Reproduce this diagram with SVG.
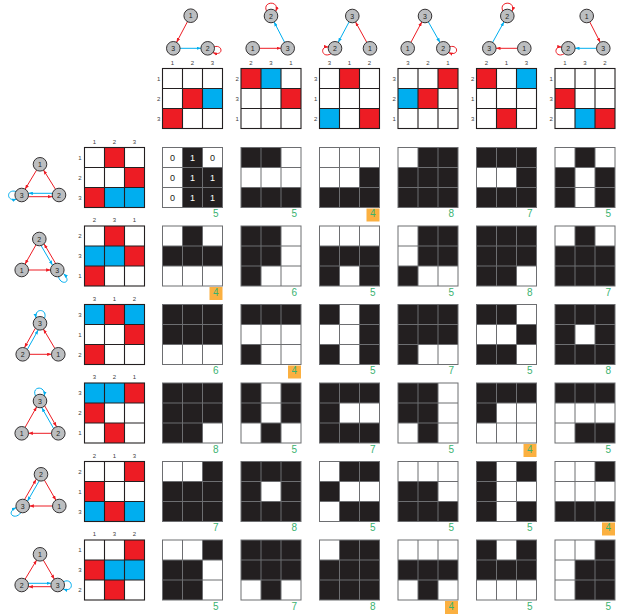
<svg xmlns="http://www.w3.org/2000/svg" xmlns:xlink="http://www.w3.org/1999/xlink" width="621" height="616" viewBox="0 0 621 616">
<style>
.nd{fill:#bcbec0;stroke:#231f20;stroke-width:0.9}
.nt{font-family:"Liberation Sans",Arial,sans-serif;font-size:7px;fill:#231f20;text-anchor:middle}
.lb{font-family:"Liberation Sans",Arial,sans-serif;font-size:6px;fill:#414042;text-anchor:middle}
.er{stroke:#ed1c24;stroke-width:1;fill:none;marker-end:url(#ar)}
.eb{stroke:#00aeef;stroke-width:1;fill:none;marker-end:url(#ab)}
.bg{fill:#ffffff}
.n{font-family:"Liberation Sans",Arial,sans-serif;font-size:10px;fill:#3ab26f;text-anchor:end}
.hl{fill:#fbb040}
.v{font-family:"Liberation Sans",Arial,sans-serif;font-size:9px;text-anchor:middle}
</style>
<defs>
<marker id="ar" viewBox="0 0 8 6" refX="8" refY="3" markerWidth="4.5" markerHeight="3.6" markerUnits="userSpaceOnUse" orient="auto"><path d="M0,0 L8,3 L0,6 z" fill="#ed1c24"/></marker>
<marker id="ab" viewBox="0 0 8 6" refX="8" refY="3" markerWidth="4.5" markerHeight="3.6" markerUnits="userSpaceOnUse" orient="auto"><path d="M0,0 L8,3 L0,6 z" fill="#00aeef"/></marker>
<rect id="k" width="20" height="20" fill="#231f20"/>
<rect id="r" width="20" height="20" fill="#ed1c24"/>
<rect id="b" width="20" height="20" fill="#00aeef"/>
<g id="gl" fill="none" stroke="#6d6e71" stroke-width="1"><rect x="0" y="0" width="60" height="60"/><path d="M20 0V60M40 0V60M0 20H60M0 40H60"/></g>
<g id="ml" fill="none" stroke="#231f20" stroke-width="1.1"><rect x="0" y="0" width="60" height="60"/><path d="M20 0V60M40 0V60M0 20H60M0 40H60"/></g>
</defs>
<rect width="621" height="616" fill="#ffffff"/>

<g id="connectors">
<path class="er" d="M187.5 21.6L176.5 42.4"/>
<path class="eb" d="M180 48.3L201 48.3"/>
<path class="er" d="M214.2 46.8C223 44 224 57 212.8 52.6"/>
<path class="er" d="M259.4 48.3L281 48.3"/>
<path class="eb" d="M284.6 42.3L274.1 22"/>
<path class="er" d="M266.5 11C262 1 280 0 275.8 11.3"/>
<path class="eb" d="M349.1 21.9L338.2 42.4"/>
<path class="er" d="M366.8 42.4L355.5 21.9"/>
<path class="er" d="M331 53.7C322 59 319 46 328.4 47"/>
<path class="er" d="M410.9 42.4L421.8 21.9"/>
<path class="eb" d="M428.3 21.8L440 42.5"/>
<path class="er" d="M449.8 46.8C458.6 44 459.6 57 448.4 52.6"/>
<path class="er" d="M517.6 48.3L496 48.3"/>
<path class="eb" d="M492.6 42.4L504 21.8"/>
<path class="er" d="M502.8 11C498.3 1 516.3 0 512.1 11.3"/>
<path class="er" d="M589.8 22L600.2 42.3"/>
<path class="eb" d="M596.6 48.3L575 48.3"/>
<path class="er" d="M564.3 53.7C555.3 59 552.3 46 561.7 47"/>
<path class="er" d="M36.6 170.1L25.1 189.2"/>
<path class="er" d="M55.5 189.3L43.5 170"/>
<path class="eb" d="M52.3 193.3L28.4 193.3"/>
<path class="er" d="M28.4 196.7L52.3 196.7"/>
<path class="eb" d="M16 191.5C6 188.5 6 202.5 16.6 199"/>
<path class="er" d="M36 244.8L25 264.2"/>
<path class="er" d="M28.4 270L50.6 270"/>
<path class="eb" d="M41.1 245.6L52.5 265.1"/>
<path class="er" d="M55.5 263.3L44.1 243.9"/>
<path class="eb" d="M58.5 276.6C60.5 286 73 283 63.5 273.6"/>
<path class="er" d="M35.3 328.3L24.5 347.6"/>
<path class="eb" d="M27.4 349.3L38.2 330"/>
<path class="er" d="M29.4 354.3L51.6 354.3"/>
<path class="er" d="M54.9 348.5L43.4 329.1"/>
<path class="eb" d="M44.5 318.3C48 308.5 34 307.5 36 318"/>
<path class="er" d="M25 427.5L36.7 406.8"/>
<path class="er" d="M44.8 406L56.5 426.6"/>
<path class="eb" d="M53.5 428.3L41.8 407.7"/>
<path class="er" d="M51.6 433.3L28.4 433.3"/>
<path class="eb" d="M35.5 396C31 386 46 385 44.3 396"/>
<path class="er" d="M24.6 499.4L36.2 479.3"/>
<path class="eb" d="M39.1 481L27.5 501.1"/>
<path class="er" d="M44.4 480.1L55.9 500.2"/>
<path class="er" d="M52.6 506L29.4 506"/>
<path class="eb" d="M21 512.5C15 521 5 513 16.2 507.6"/>
<path class="er" d="M25.1 579.2L36.6 560.1"/>
<path class="er" d="M43.3 560.1L54.4 579.2"/>
<path class="eb" d="M28.4 583.3L51 583.3"/>
<path class="er" d="M51 586.7L28.4 586.7"/>
<path class="eb" d="M63.5 581.7C73 577 75 593 63.2 589"/>
</g>

<g id="t1n1"><circle class="nd" cx="190.7" cy="15.7" r="6.8"/><text class="nt" x="190.7" y="18.2">1</text></g>
<g id="t1n3"><circle class="nd" cx="173.3" cy="48.3" r="6.8"/><text class="nt" x="173.3" y="50.8">3</text></g>
<g id="t1n2"><circle class="nd" cx="207.7" cy="48.3" r="6.8"/><text class="nt" x="207.7" y="50.8">2</text></g>
<g id="t2n2"><circle class="nd" cx="271" cy="16" r="6.8"/><text class="nt" x="271" y="18.5">2</text></g>
<g id="t2n1"><circle class="nd" cx="252.7" cy="48.3" r="6.8"/><text class="nt" x="252.7" y="50.8">1</text></g>
<g id="t2n3"><circle class="nd" cx="287.7" cy="48.3" r="6.8"/><text class="nt" x="287.7" y="50.8">3</text></g>
<g id="t3n3"><circle class="nd" cx="352.3" cy="16" r="6.8"/><text class="nt" x="352.3" y="18.5">3</text></g>
<g id="t3n2"><circle class="nd" cx="335" cy="48.3" r="6.8"/><text class="nt" x="335" y="50.8">2</text></g>
<g id="t3n1"><circle class="nd" cx="370" cy="48.3" r="6.8"/><text class="nt" x="370" y="50.8">1</text></g>
<g id="t4n3"><circle class="nd" cx="425" cy="16" r="6.8"/><text class="nt" x="425" y="18.5">3</text></g>
<g id="t4n1"><circle class="nd" cx="407.7" cy="48.3" r="6.8"/><text class="nt" x="407.7" y="50.8">1</text></g>
<g id="t4n2"><circle class="nd" cx="443.3" cy="48.3" r="6.8"/><text class="nt" x="443.3" y="50.8">2</text></g>
<g id="t5n2"><circle class="nd" cx="507.3" cy="16" r="6.8"/><text class="nt" x="507.3" y="18.5">2</text></g>
<g id="t5n3"><circle class="nd" cx="489.3" cy="48.3" r="6.8"/><text class="nt" x="489.3" y="50.8">3</text></g>
<g id="t5n1"><circle class="nd" cx="524.3" cy="48.3" r="6.8"/><text class="nt" x="524.3" y="50.8">1</text></g>
<g id="t6n1"><circle class="nd" cx="586.7" cy="16" r="6.8"/><text class="nt" x="586.7" y="18.5">1</text></g>
<g id="t6n2"><circle class="nd" cx="568.3" cy="48.3" r="6.8"/><text class="nt" x="568.3" y="50.8">2</text></g>
<g id="t6n3"><circle class="nd" cx="603.3" cy="48.3" r="6.8"/><text class="nt" x="603.3" y="50.8">3</text></g>

<g id="l1n1"><circle class="nd" cx="40" cy="164.3" r="6.8"/><text class="nt" x="40" y="166.8">1</text></g>
<g id="l1n3"><circle class="nd" cx="21.7" cy="195" r="6.8"/><text class="nt" x="21.7" y="197.5">3</text></g>
<g id="l1n2"><circle class="nd" cx="59" cy="195" r="6.8"/><text class="nt" x="59" y="197.5">2</text></g>
<g id="l2n2"><circle class="nd" cx="39.3" cy="239" r="6.8"/><text class="nt" x="39.3" y="241.5">2</text></g>
<g id="l2n1"><circle class="nd" cx="21.7" cy="270" r="6.8"/><text class="nt" x="21.7" y="272.5">1</text></g>
<g id="l2n3"><circle class="nd" cx="57.3" cy="270" r="6.8"/><text class="nt" x="57.3" y="272.5">3</text></g>
<g id="l3n3"><circle class="nd" cx="40" cy="323.3" r="6.8"/><text class="nt" x="40" y="325.8">3</text></g>
<g id="l3n2"><circle class="nd" cx="22.7" cy="354.3" r="6.8"/><text class="nt" x="22.7" y="356.8">2</text></g>
<g id="l3n1"><circle class="nd" cx="58.3" cy="354.3" r="6.8"/><text class="nt" x="58.3" y="356.8">1</text></g>
<g id="l4n3"><circle class="nd" cx="40" cy="401" r="6.8"/><text class="nt" x="40" y="403.5">3</text></g>
<g id="l4n1"><circle class="nd" cx="21.7" cy="433.3" r="6.8"/><text class="nt" x="21.7" y="435.8">1</text></g>
<g id="l4n2"><circle class="nd" cx="58.3" cy="433.3" r="6.8"/><text class="nt" x="58.3" y="435.8">2</text></g>
<g id="l5n2"><circle class="nd" cx="41" cy="474.3" r="6.8"/><text class="nt" x="41" y="476.8">2</text></g>
<g id="l5n3"><circle class="nd" cx="22.7" cy="506" r="6.8"/><text class="nt" x="22.7" y="508.5">3</text></g>
<g id="l5n1"><circle class="nd" cx="59.3" cy="506" r="6.8"/><text class="nt" x="59.3" y="508.5">1</text></g>
<g id="l6n1"><circle class="nd" cx="40" cy="554.3" r="6.8"/><text class="nt" x="40" y="556.8">1</text></g>
<g id="l6n2"><circle class="nd" cx="21.7" cy="585" r="6.8"/><text class="nt" x="21.7" y="587.5">2</text></g>
<g id="l6n3"><circle class="nd" cx="57.7" cy="585" r="6.8"/><text class="nt" x="57.7" y="587.5">3</text></g>

<g id="tm1" transform="translate(162.5,68.5)"><rect class="bg" width="60" height="60"/><use href="#r" x="20" y="20"/><use href="#b" x="40" y="20"/><use href="#r" x="0" y="40"/><use href="#ml"/>
<text class="lb" x="10" y="-3.7">1</text><text class="lb" x="30" y="-3.7">2</text><text class="lb" x="50" y="-3.7">3</text><text class="lb" x="-3.8" y="12">1</text><text class="lb" x="-3.8" y="32">2</text><text class="lb" x="-3.8" y="52">3</text></g>
<g id="tm2" transform="translate(241,68.5)"><rect class="bg" width="60" height="60"/><use href="#r" x="0" y="0"/><use href="#b" x="20" y="0"/><use href="#r" x="40" y="20"/><use href="#ml"/>
<text class="lb" x="10" y="-3.7">2</text><text class="lb" x="30" y="-3.7">3</text><text class="lb" x="50" y="-3.7">1</text><text class="lb" x="-3.8" y="12">2</text><text class="lb" x="-3.8" y="32">3</text><text class="lb" x="-3.8" y="52">1</text></g>
<g id="tm3" transform="translate(319.5,68.5)"><rect class="bg" width="60" height="60"/><use href="#r" x="20" y="0"/><use href="#b" x="0" y="40"/><use href="#r" x="40" y="40"/><use href="#ml"/>
<text class="lb" x="10" y="-3.7">3</text><text class="lb" x="30" y="-3.7">1</text><text class="lb" x="50" y="-3.7">2</text><text class="lb" x="-3.8" y="12">3</text><text class="lb" x="-3.8" y="32">1</text><text class="lb" x="-3.8" y="52">2</text></g>
<g id="tm4" transform="translate(398,68.5)"><rect class="bg" width="60" height="60"/><use href="#r" x="40" y="0"/><use href="#b" x="0" y="20"/><use href="#r" x="20" y="20"/><use href="#ml"/>
<text class="lb" x="10" y="-3.7">3</text><text class="lb" x="30" y="-3.7">2</text><text class="lb" x="50" y="-3.7">1</text><text class="lb" x="-3.8" y="12">3</text><text class="lb" x="-3.8" y="32">2</text><text class="lb" x="-3.8" y="52">1</text></g>
<g id="tm5" transform="translate(476.5,68.5)"><rect class="bg" width="60" height="60"/><use href="#r" x="0" y="0"/><use href="#b" x="40" y="0"/><use href="#r" x="20" y="40"/><use href="#ml"/>
<text class="lb" x="10" y="-3.7">2</text><text class="lb" x="30" y="-3.7">1</text><text class="lb" x="50" y="-3.7">3</text><text class="lb" x="-3.8" y="12">2</text><text class="lb" x="-3.8" y="32">1</text><text class="lb" x="-3.8" y="52">3</text></g>
<g id="tm6" transform="translate(555,68.5)"><rect class="bg" width="60" height="60"/><use href="#r" x="0" y="20"/><use href="#b" x="20" y="40"/><use href="#r" x="40" y="40"/><use href="#ml"/>
<text class="lb" x="10" y="-3.7">1</text><text class="lb" x="30" y="-3.7">3</text><text class="lb" x="50" y="-3.7">2</text><text class="lb" x="-3.8" y="12">1</text><text class="lb" x="-3.8" y="32">3</text><text class="lb" x="-3.8" y="52">2</text></g>

<g id="lm1" transform="translate(84.5,147.5)"><rect class="bg" width="60" height="60"/><use href="#r" x="20" y="0"/><use href="#r" x="40" y="20"/><use href="#r" x="0" y="40"/><use href="#b" x="20" y="40"/><use href="#b" x="40" y="40"/><use href="#ml"/>
<text class="lb" x="10" y="-3.7">1</text><text class="lb" x="30" y="-3.7">2</text><text class="lb" x="50" y="-3.7">3</text><text class="lb" x="-4.5" y="12">1</text><text class="lb" x="-4.5" y="32">2</text><text class="lb" x="-4.5" y="52">3</text></g>
<g id="lm2" transform="translate(84.5,226)"><rect class="bg" width="60" height="60"/><use href="#r" x="20" y="0"/><use href="#b" x="0" y="20"/><use href="#b" x="20" y="20"/><use href="#r" x="40" y="20"/><use href="#r" x="0" y="40"/><use href="#ml"/>
<text class="lb" x="10" y="-3.7">2</text><text class="lb" x="30" y="-3.7">3</text><text class="lb" x="50" y="-3.7">1</text><text class="lb" x="-4.5" y="12">2</text><text class="lb" x="-4.5" y="32">3</text><text class="lb" x="-4.5" y="52">1</text></g>
<g id="lm3" transform="translate(84.5,304.5)"><rect class="bg" width="60" height="60"/><use href="#b" x="0" y="0"/><use href="#r" x="20" y="0"/><use href="#b" x="40" y="0"/><use href="#r" x="40" y="20"/><use href="#r" x="0" y="40"/><use href="#ml"/>
<text class="lb" x="10" y="-3.7">3</text><text class="lb" x="30" y="-3.7">1</text><text class="lb" x="50" y="-3.7">2</text><text class="lb" x="-4.5" y="12">3</text><text class="lb" x="-4.5" y="32">1</text><text class="lb" x="-4.5" y="52">2</text></g>
<g id="lm4" transform="translate(84.5,383)"><rect class="bg" width="60" height="60"/><use href="#b" x="0" y="0"/><use href="#b" x="20" y="0"/><use href="#r" x="40" y="0"/><use href="#r" x="0" y="20"/><use href="#r" x="20" y="40"/><use href="#ml"/>
<text class="lb" x="10" y="-3.7">3</text><text class="lb" x="30" y="-3.7">2</text><text class="lb" x="50" y="-3.7">1</text><text class="lb" x="-4.5" y="12">3</text><text class="lb" x="-4.5" y="32">2</text><text class="lb" x="-4.5" y="52">1</text></g>
<g id="lm5" transform="translate(84.5,461.5)"><rect class="bg" width="60" height="60"/><use href="#r" x="40" y="0"/><use href="#r" x="0" y="20"/><use href="#b" x="0" y="40"/><use href="#r" x="20" y="40"/><use href="#b" x="40" y="40"/><use href="#ml"/>
<text class="lb" x="10" y="-3.7">2</text><text class="lb" x="30" y="-3.7">1</text><text class="lb" x="50" y="-3.7">3</text><text class="lb" x="-4.5" y="12">2</text><text class="lb" x="-4.5" y="32">1</text><text class="lb" x="-4.5" y="52">3</text></g>
<g id="lm6" transform="translate(84.5,540)"><rect class="bg" width="60" height="60"/><use href="#r" x="40" y="0"/><use href="#r" x="0" y="20"/><use href="#b" x="20" y="20"/><use href="#b" x="40" y="20"/><use href="#r" x="20" y="40"/><use href="#ml"/>
<text class="lb" x="10" y="-3.7">1</text><text class="lb" x="30" y="-3.7">3</text><text class="lb" x="50" y="-3.7">2</text><text class="lb" x="-4.5" y="12">1</text><text class="lb" x="-4.5" y="32">3</text><text class="lb" x="-4.5" y="52">2</text></g>

<g id="c11" transform="translate(162.5,147.5)"><rect class="bg" width="60" height="60"/><use href="#k" x="20" y="0"/><use href="#k" x="20" y="20"/><use href="#k" x="40" y="20"/><use href="#k" x="20" y="40"/><use href="#k" x="40" y="40"/><use href="#gl"/>
<text class="v" x="10" y="13" fill="#231f20">0</text><text class="v" x="30" y="13" fill="#ffffff">1</text><text class="v" x="50" y="13" fill="#231f20">0</text>
<text class="v" x="10" y="33" fill="#231f20">0</text><text class="v" x="30" y="33" fill="#ffffff">1</text><text class="v" x="50" y="33" fill="#ffffff">1</text>
<text class="v" x="10" y="53" fill="#231f20">0</text><text class="v" x="30" y="53" fill="#ffffff">1</text><text class="v" x="50" y="53" fill="#ffffff">1</text>
<text class="n" x="56" y="69.5">5</text></g>
<g id="c12" transform="translate(241,147.5)"><rect class="bg" width="60" height="60"/><use href="#k" x="0" y="0"/><use href="#k" x="20" y="0"/><use href="#k" x="0" y="40"/><use href="#k" x="20" y="40"/><use href="#k" x="40" y="40"/><use href="#gl"/><text class="n" x="56" y="69.5">5</text></g>
<g id="c13" transform="translate(319.5,147.5)"><rect class="bg" width="60" height="60"/><use href="#k" x="40" y="20"/><use href="#k" x="0" y="40"/><use href="#k" x="20" y="40"/><use href="#k" x="40" y="40"/><use href="#gl"/><rect class="hl" x="47" y="61" width="13" height="13"/><text class="n" x="56" y="69.5">4</text></g>
<g id="c14" transform="translate(398,147.5)"><rect class="bg" width="60" height="60"/><use href="#k" x="20" y="0"/><use href="#k" x="40" y="0"/><use href="#k" x="0" y="20"/><use href="#k" x="20" y="20"/><use href="#k" x="40" y="20"/><use href="#k" x="0" y="40"/><use href="#k" x="20" y="40"/><use href="#k" x="40" y="40"/><use href="#gl"/><text class="n" x="56" y="69.5">8</text></g>
<g id="c15" transform="translate(476.5,147.5)"><rect class="bg" width="60" height="60"/><use href="#k" x="0" y="0"/><use href="#k" x="20" y="0"/><use href="#k" x="40" y="0"/><use href="#k" x="40" y="20"/><use href="#k" x="0" y="40"/><use href="#k" x="20" y="40"/><use href="#k" x="40" y="40"/><use href="#gl"/><text class="n" x="56" y="69.5">7</text></g>
<g id="c16" transform="translate(555,147.5)"><rect class="bg" width="60" height="60"/><use href="#k" x="20" y="0"/><use href="#k" x="0" y="20"/><use href="#k" x="40" y="20"/><use href="#k" x="0" y="40"/><use href="#k" x="40" y="40"/><use href="#gl"/><text class="n" x="56" y="69.5">5</text></g>

<g id="c21" transform="translate(162.5,226)"><rect class="bg" width="60" height="60"/><use href="#k" x="20" y="0"/><use href="#k" x="0" y="20"/><use href="#k" x="20" y="20"/><use href="#k" x="40" y="20"/><use href="#gl"/><rect class="hl" x="47" y="61" width="13" height="13"/><text class="n" x="56" y="69.5">4</text></g>
<g id="c22" transform="translate(241,226)"><rect class="bg" width="60" height="60"/><use href="#k" x="0" y="0"/><use href="#k" x="20" y="0"/><use href="#k" x="0" y="20"/><use href="#k" x="20" y="20"/><use href="#k" x="0" y="40"/><use href="#gl"/><text class="n" x="56" y="69.5">6</text></g>
<g id="c23" transform="translate(319.5,226)"><rect class="bg" width="60" height="60"/><use href="#k" x="0" y="20"/><use href="#k" x="20" y="20"/><use href="#k" x="40" y="20"/><use href="#k" x="0" y="40"/><use href="#k" x="40" y="40"/><use href="#gl"/><text class="n" x="56" y="69.5">5</text></g>
<g id="c24" transform="translate(398,226)"><rect class="bg" width="60" height="60"/><use href="#k" x="20" y="0"/><use href="#k" x="40" y="0"/><use href="#k" x="20" y="20"/><use href="#k" x="40" y="20"/><use href="#k" x="0" y="40"/><use href="#gl"/><text class="n" x="56" y="69.5">5</text></g>
<g id="c25" transform="translate(476.5,226)"><rect class="bg" width="60" height="60"/><use href="#k" x="0" y="0"/><use href="#k" x="20" y="0"/><use href="#k" x="40" y="0"/><use href="#k" x="0" y="20"/><use href="#k" x="20" y="20"/><use href="#k" x="40" y="20"/><use href="#k" x="0" y="40"/><use href="#k" x="20" y="40"/><use href="#gl"/><text class="n" x="56" y="69.5">8</text></g>
<g id="c26" transform="translate(555,226)"><rect class="bg" width="60" height="60"/><use href="#k" x="20" y="0"/><use href="#k" x="0" y="20"/><use href="#k" x="20" y="20"/><use href="#k" x="40" y="20"/><use href="#k" x="0" y="40"/><use href="#k" x="20" y="40"/><use href="#k" x="40" y="40"/><use href="#gl"/><text class="n" x="56" y="69.5">7</text></g>

<g id="c31" transform="translate(162.5,304.5)"><rect class="bg" width="60" height="60"/><use href="#k" x="0" y="0"/><use href="#k" x="20" y="0"/><use href="#k" x="40" y="0"/><use href="#k" x="0" y="20"/><use href="#k" x="20" y="20"/><use href="#k" x="40" y="20"/><use href="#gl"/><text class="n" x="56" y="69.5">6</text></g>
<g id="c32" transform="translate(241,304.5)"><rect class="bg" width="60" height="60"/><use href="#k" x="0" y="0"/><use href="#k" x="20" y="0"/><use href="#k" x="40" y="0"/><use href="#k" x="0" y="40"/><use href="#gl"/><rect class="hl" x="47" y="61" width="13" height="13"/><text class="n" x="56" y="69.5">4</text></g>
<g id="c33" transform="translate(319.5,304.5)"><rect class="bg" width="60" height="60"/><use href="#k" x="0" y="0"/><use href="#k" x="40" y="0"/><use href="#k" x="40" y="20"/><use href="#k" x="0" y="40"/><use href="#k" x="40" y="40"/><use href="#gl"/><text class="n" x="56" y="69.5">5</text></g>
<g id="c34" transform="translate(398,304.5)"><rect class="bg" width="60" height="60"/><use href="#k" x="0" y="0"/><use href="#k" x="20" y="0"/><use href="#k" x="40" y="0"/><use href="#k" x="0" y="20"/><use href="#k" x="20" y="20"/><use href="#k" x="40" y="20"/><use href="#k" x="0" y="40"/><use href="#gl"/><text class="n" x="56" y="69.5">7</text></g>
<g id="c35" transform="translate(476.5,304.5)"><rect class="bg" width="60" height="60"/><use href="#k" x="0" y="0"/><use href="#k" x="20" y="0"/><use href="#k" x="40" y="20"/><use href="#k" x="0" y="40"/><use href="#k" x="20" y="40"/><use href="#gl"/><text class="n" x="56" y="69.5">5</text></g>
<g id="c36" transform="translate(555,304.5)"><rect class="bg" width="60" height="60"/><use href="#k" x="0" y="0"/><use href="#k" x="20" y="0"/><use href="#k" x="40" y="0"/><use href="#k" x="0" y="20"/><use href="#k" x="40" y="20"/><use href="#k" x="0" y="40"/><use href="#k" x="20" y="40"/><use href="#k" x="40" y="40"/><use href="#gl"/><text class="n" x="56" y="69.5">8</text></g>

<g id="c41" transform="translate(162.5,383)"><rect class="bg" width="60" height="60"/><use href="#k" x="0" y="0"/><use href="#k" x="20" y="0"/><use href="#k" x="40" y="0"/><use href="#k" x="0" y="20"/><use href="#k" x="20" y="20"/><use href="#k" x="40" y="20"/><use href="#k" x="0" y="40"/><use href="#k" x="20" y="40"/><use href="#gl"/><text class="n" x="56" y="69.5">8</text></g>
<g id="c42" transform="translate(241,383)"><rect class="bg" width="60" height="60"/><use href="#k" x="0" y="0"/><use href="#k" x="40" y="0"/><use href="#k" x="0" y="20"/><use href="#k" x="40" y="20"/><use href="#k" x="20" y="40"/><use href="#gl"/><text class="n" x="56" y="69.5">5</text></g>
<g id="c43" transform="translate(319.5,383)"><rect class="bg" width="60" height="60"/><use href="#k" x="0" y="0"/><use href="#k" x="20" y="0"/><use href="#k" x="40" y="0"/><use href="#k" x="0" y="20"/><use href="#k" x="0" y="40"/><use href="#k" x="20" y="40"/><use href="#k" x="40" y="40"/><use href="#gl"/><text class="n" x="56" y="69.5">7</text></g>
<g id="c44" transform="translate(398,383)"><rect class="bg" width="60" height="60"/><use href="#k" x="0" y="0"/><use href="#k" x="20" y="0"/><use href="#k" x="0" y="20"/><use href="#k" x="20" y="20"/><use href="#k" x="20" y="40"/><use href="#gl"/><text class="n" x="56" y="69.5">5</text></g>
<g id="c45" transform="translate(476.5,383)"><rect class="bg" width="60" height="60"/><use href="#k" x="0" y="0"/><use href="#k" x="20" y="0"/><use href="#k" x="40" y="0"/><use href="#k" x="0" y="20"/><use href="#gl"/><rect class="hl" x="47" y="61" width="13" height="13"/><text class="n" x="56" y="69.5">4</text></g>
<g id="c46" transform="translate(555,383)"><rect class="bg" width="60" height="60"/><use href="#k" x="0" y="0"/><use href="#k" x="20" y="0"/><use href="#k" x="40" y="0"/><use href="#k" x="20" y="40"/><use href="#k" x="40" y="40"/><use href="#gl"/><text class="n" x="56" y="69.5">5</text></g>

<g id="c51" transform="translate(162.5,461.5)"><rect class="bg" width="60" height="60"/><use href="#k" x="40" y="0"/><use href="#k" x="0" y="20"/><use href="#k" x="20" y="20"/><use href="#k" x="40" y="20"/><use href="#k" x="0" y="40"/><use href="#k" x="20" y="40"/><use href="#k" x="40" y="40"/><use href="#gl"/><text class="n" x="56" y="69.5">7</text></g>
<g id="c52" transform="translate(241,461.5)"><rect class="bg" width="60" height="60"/><use href="#k" x="0" y="0"/><use href="#k" x="20" y="0"/><use href="#k" x="40" y="0"/><use href="#k" x="0" y="20"/><use href="#k" x="40" y="20"/><use href="#k" x="0" y="40"/><use href="#k" x="20" y="40"/><use href="#k" x="40" y="40"/><use href="#gl"/><text class="n" x="56" y="69.5">8</text></g>
<g id="c53" transform="translate(319.5,461.5)"><rect class="bg" width="60" height="60"/><use href="#k" x="20" y="0"/><use href="#k" x="40" y="0"/><use href="#k" x="0" y="20"/><use href="#k" x="20" y="40"/><use href="#k" x="40" y="40"/><use href="#gl"/><text class="n" x="56" y="69.5">5</text></g>
<g id="c54" transform="translate(398,461.5)"><rect class="bg" width="60" height="60"/><use href="#k" x="0" y="20"/><use href="#k" x="20" y="20"/><use href="#k" x="0" y="40"/><use href="#k" x="20" y="40"/><use href="#k" x="40" y="40"/><use href="#gl"/><text class="n" x="56" y="69.5">5</text></g>
<g id="c55" transform="translate(476.5,461.5)"><rect class="bg" width="60" height="60"/><use href="#k" x="0" y="0"/><use href="#k" x="40" y="0"/><use href="#k" x="0" y="20"/><use href="#k" x="0" y="40"/><use href="#k" x="40" y="40"/><use href="#gl"/><text class="n" x="56" y="69.5">5</text></g>
<g id="c56" transform="translate(555,461.5)"><rect class="bg" width="60" height="60"/><use href="#k" x="40" y="0"/><use href="#k" x="0" y="40"/><use href="#k" x="20" y="40"/><use href="#k" x="40" y="40"/><use href="#gl"/><rect class="hl" x="47" y="61" width="13" height="13"/><text class="n" x="56" y="69.5">4</text></g>

<g id="c61" transform="translate(162.5,540)"><rect class="bg" width="60" height="60"/><use href="#k" x="40" y="0"/><use href="#k" x="0" y="20"/><use href="#k" x="20" y="20"/><use href="#k" x="0" y="40"/><use href="#k" x="20" y="40"/><use href="#gl"/><text class="n" x="56" y="69.5">5</text></g>
<g id="c62" transform="translate(241,540)"><rect class="bg" width="60" height="60"/><use href="#k" x="0" y="0"/><use href="#k" x="20" y="0"/><use href="#k" x="40" y="0"/><use href="#k" x="0" y="20"/><use href="#k" x="20" y="20"/><use href="#k" x="40" y="20"/><use href="#k" x="20" y="40"/><use href="#gl"/><text class="n" x="56" y="69.5">7</text></g>
<g id="c63" transform="translate(319.5,540)"><rect class="bg" width="60" height="60"/><use href="#k" x="20" y="0"/><use href="#k" x="40" y="0"/><use href="#k" x="0" y="20"/><use href="#k" x="20" y="20"/><use href="#k" x="40" y="20"/><use href="#k" x="0" y="40"/><use href="#k" x="20" y="40"/><use href="#k" x="40" y="40"/><use href="#gl"/><text class="n" x="56" y="69.5">8</text></g>
<g id="c64" transform="translate(398,540)"><rect class="bg" width="60" height="60"/><use href="#k" x="0" y="20"/><use href="#k" x="20" y="20"/><use href="#k" x="40" y="20"/><use href="#k" x="20" y="40"/><use href="#gl"/><rect class="hl" x="47" y="61" width="13" height="13"/><text class="n" x="56" y="69.5">4</text></g>
<g id="c65" transform="translate(476.5,540)"><rect class="bg" width="60" height="60"/><use href="#k" x="0" y="0"/><use href="#k" x="40" y="0"/><use href="#k" x="0" y="20"/><use href="#k" x="20" y="20"/><use href="#k" x="40" y="20"/><use href="#gl"/><text class="n" x="56" y="69.5">5</text></g>
<g id="c66" transform="translate(555,540)"><rect class="bg" width="60" height="60"/><use href="#k" x="40" y="0"/><use href="#k" x="20" y="20"/><use href="#k" x="40" y="20"/><use href="#k" x="20" y="40"/><use href="#k" x="40" y="40"/><use href="#gl"/><text class="n" x="56" y="69.5">5</text></g>
</svg>
